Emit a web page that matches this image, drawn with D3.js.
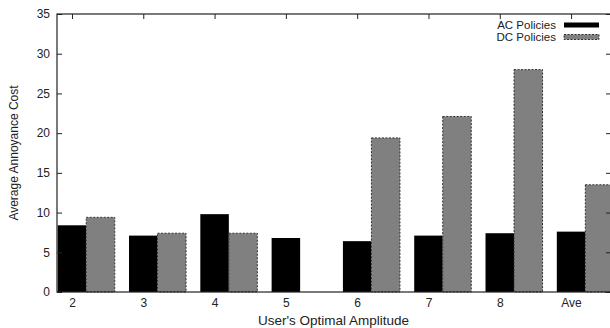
<!DOCTYPE html>
<html>
<head>
<meta charset="utf-8">
<script src="https://cdn.jsdelivr.net/npm/d3@7"></script>
<style>
  body { margin: 0; background: #fff; }
  text { font-family: 'Liberation Sans', Arial, Helvetica, sans-serif; }
</style>
</head>
<body>
<div id="chart"></div>
<script>
const categories = ['2', '3', '4', '5', '6', '7', '8', 'Ave']
const acPolicies = [8.4, 7.1, 9.8, 6.8, 6.4, 7.1, 7.4, 7.6]
const dcPolicies = [9.4, 7.4, 7.4, 0, 19.4, 22.1, 28.0, 13.5]
const yTicks = [0, 5, 10, 15, 20, 25, 30, 35]
const seriesNames = ['AC Policies', 'DC Policies']

const W = 610, H = 328
const margin = { top: 14, right: -1, bottom: 36, left: 57 }
const width = W - margin.left - margin.right
const height = H - margin.top - margin.bottom
const axisColor = '#222'

const svg = d3
  .select('#chart')
  .append('svg')
  .attr('width', W)
  .attr('height', H)

const g = svg.append('g').attr('transform', `translate(${margin.left},${margin.top})`)

// category index -> pixel, tick sits at the centre of the first bar
const x = d3.scaleLinear().domain([-0.21, 7.56]).range([0, width])
const y = d3.scaleLinear().domain([0, 35]).range([height, 0])
const barW = 0.4

// bars
g.selectAll('.ac')
  .data(acPolicies)
  .enter()
  .append('rect')
  .attr('class', 'ac')
  .attr('x', (d, i) => x(i - barW / 2))
  .attr('y', (d) => y(d))
  .attr('width', x(barW) - x(0))
  .attr('height', (d) => y(0) - y(d))
  .attr('fill', '#000')

g.selectAll('.dc')
  .data(dcPolicies)
  .enter()
  .append('rect')
  .attr('class', 'dc')
  .attr('x', (d, i) => x(i + barW / 2))
  .attr('y', (d) => y(d))
  .attr('width', x(barW) - x(0))
  .attr('height', (d) => y(0) - y(d))
  .attr('fill', '#808080')
  .attr('stroke', '#333')
  .attr('stroke-width', 1)
  .attr('stroke-dasharray', '2,1.5')

// axes (gnuplot style: inward ticks, mirrored)
const yAxisL = g.append('g').call(d3.axisRight(y).tickValues(yTicks).tickSize(5).tickFormat(''))
const yAxisR = g
  .append('g')
  .attr('transform', `translate(${width},0)`)
  .call(d3.axisLeft(y).tickValues(yTicks).tickSize(5).tickFormat(''))
const xAxisT = g.append('g').call(
  d3.axisBottom(x).tickValues(d3.range(categories.length)).tickSize(5).tickFormat('')
)
;[yAxisL, yAxisR, xAxisT].forEach((a) => {
  a.select('.domain').remove()
  a.selectAll('line').attr('stroke', axisColor)
})

// y tick labels
g.append('g')
  .call(d3.axisLeft(y).tickValues(yTicks).tickSize(0).tickPadding(7))
  .call((a) => a.select('.domain').remove())
  .selectAll('text')
  .attr('font-size', 12)
  .attr('fill', '#222')

// x tick labels
g.append('g')
  .attr('transform', `translate(0,${height})`)
  .call(
    d3
      .axisBottom(x)
      .tickValues(d3.range(categories.length))
      .tickSize(0)
      .tickPadding(6)
      .tickFormat((i) => categories[i])
  )
  .call((a) => a.select('.domain').remove())
  .selectAll('text')
  .attr('font-size', 12)
  .attr('fill', '#222')

// border
g.append('rect')
  .attr('x', 0)
  .attr('y', 0)
  .attr('width', width)
  .attr('height', height)
  .attr('fill', 'none')
  .attr('stroke', axisColor)
  .attr('stroke-width', 1.2)

// axis titles
svg
  .append('text')
  .attr('x', margin.left + (W - margin.left) / 2)
  .attr('y', H - 3)
  .attr('text-anchor', 'middle')
  .attr('font-size', 13.5)
  .attr('fill', '#222')
  .text("User's Optimal Amplitude")

svg
  .append('text')
  .attr('transform', `translate(18,${margin.top + height / 2})rotate(-90)`)
  .attr('text-anchor', 'middle')
  .attr('font-size', 12)
  .attr('fill', '#222')
  .text('Average Annoyance Cost')

// legend
const legend = svg.append('g').attr('transform', 'translate(556,25)')
seriesNames.forEach((name, i) => {
  const row = legend.append('g').attr('transform', `translate(0,${i * 12})`)
  row
    .append('text')
    .attr('x', 0)
    .attr('y', 4)
    .attr('text-anchor', 'end')
    .attr('font-size', 11.5)
    .attr('fill', '#222')
    .text(name)
  const sw = row
    .append('rect')
    .attr('x', 8)
    .attr('y', -2.5)
    .attr('width', 35)
    .attr('height', 5)
  if (i === 0) sw.attr('fill', '#000')
  else sw.attr('fill', '#808080').attr('stroke', '#333').attr('stroke-dasharray', '2,1.5')
})
</script>
</body>
</html>
